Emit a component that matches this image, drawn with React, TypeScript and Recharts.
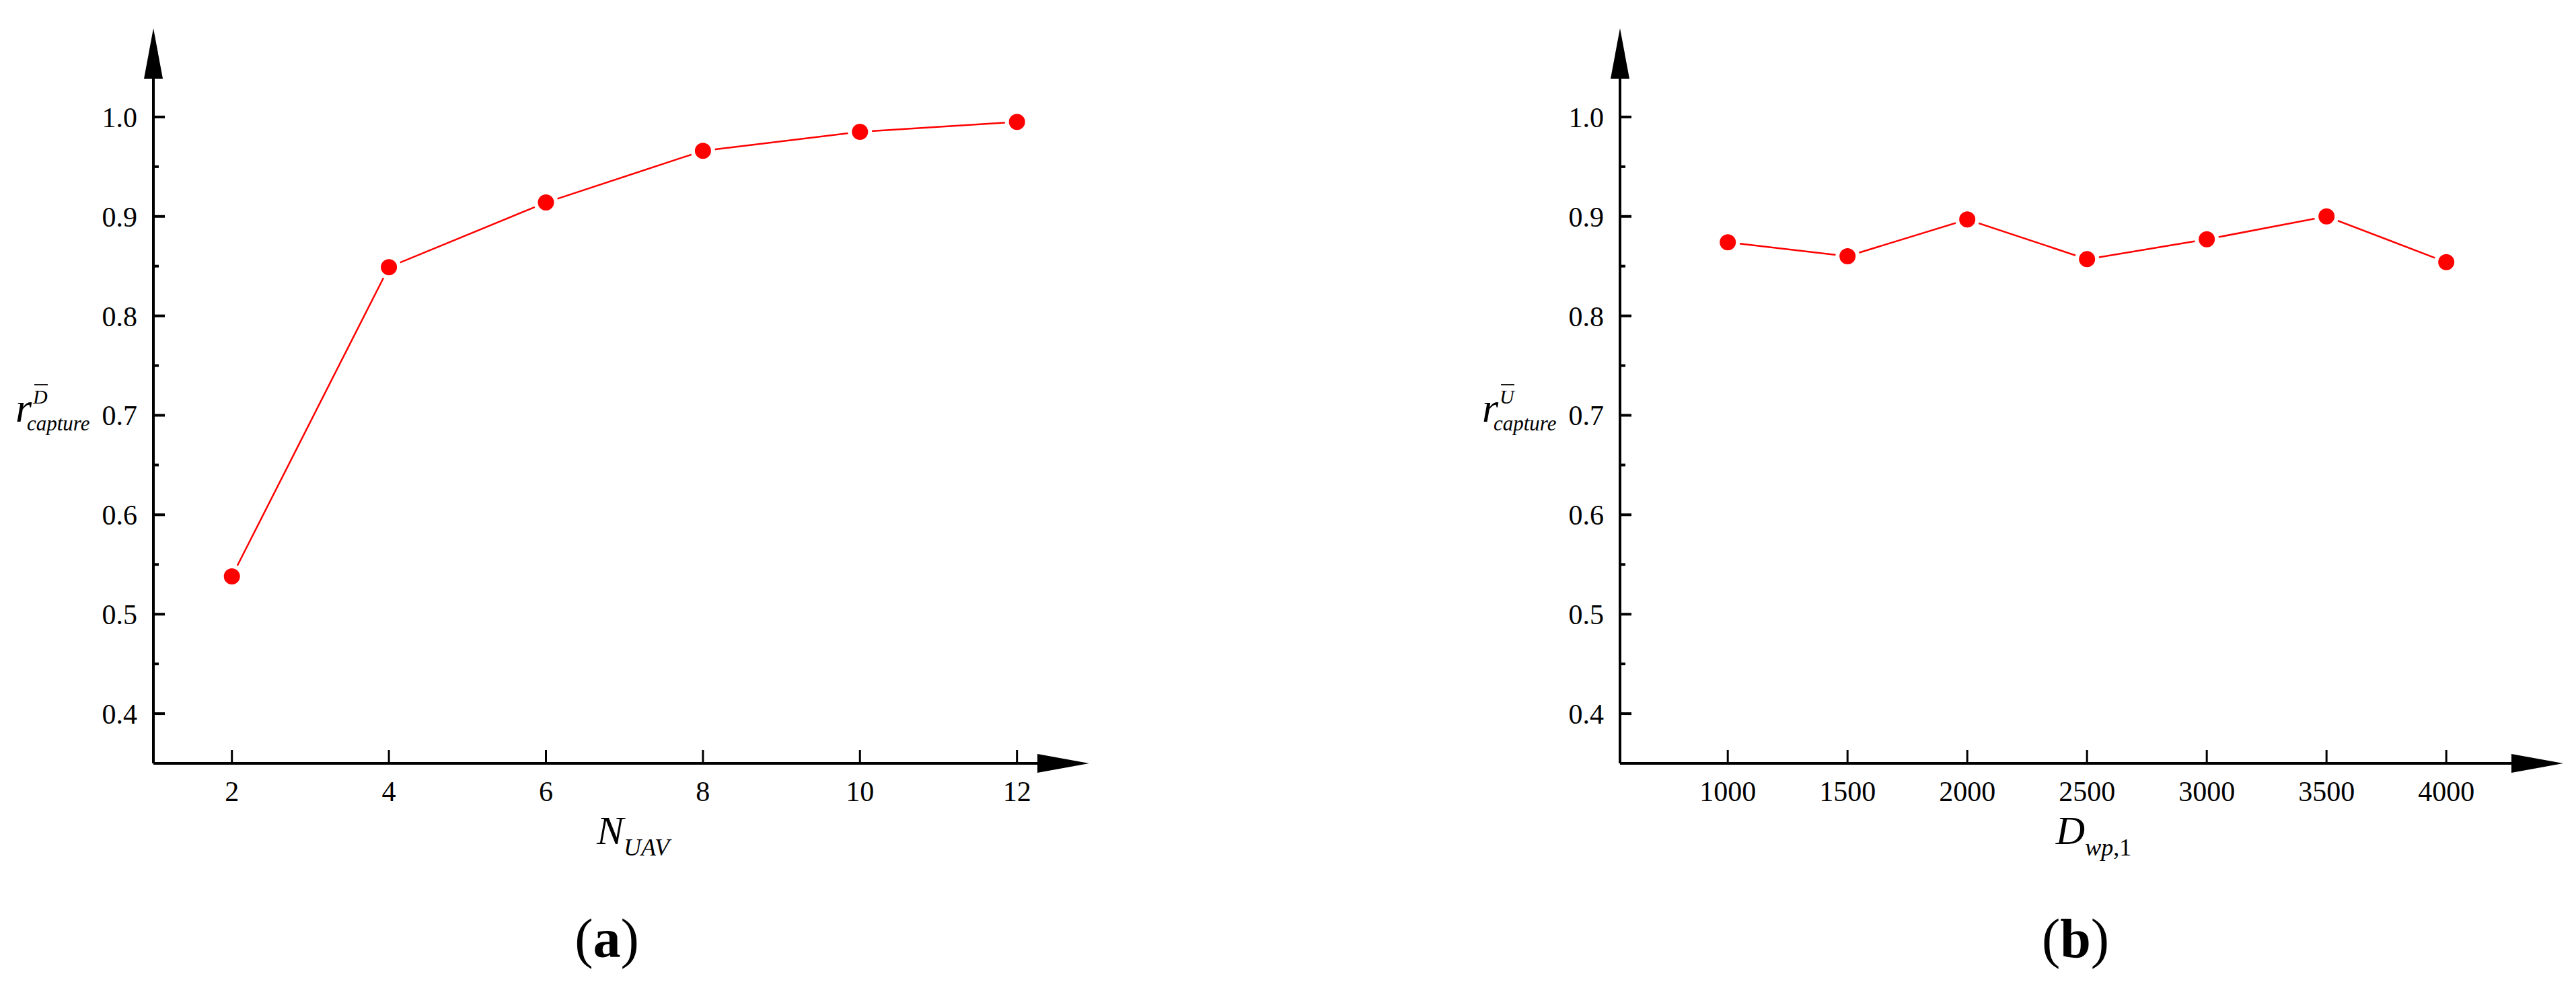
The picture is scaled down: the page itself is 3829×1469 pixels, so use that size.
import { LineChart, Line, XAxis, YAxis } from 'recharts'

// values
const nUav = [2, 4, 6, 8, 10, 12]
const captureD = [0.538, 0.849, 0.914, 0.966, 0.985, 0.995]

const dWp = [1000, 1500, 2000, 2500, 3000, 3500, 4000]
const captureU = [0.874, 0.86, 0.897, 0.857, 0.877, 0.9, 0.854]

const yTicks = [0.4, 0.5, 0.6, 0.7, 0.8, 0.9, 1.0]
const yMinorTicks = [0.45, 0.55, 0.65, 0.75, 0.85, 0.95]
const xTicksA = [2, 4, 6, 8, 10, 12]
const xTicksB = [1000, 1500, 2000, 2500, 3000, 3500, 4000]

const FONT = '"Liberation Serif", "Times New Roman", serif'
const RED = '#FF0000'

const dataA = nUav.map((n, i) => ({ x: n, y: captureD[i] }))
const dataB = dWp.map((d, i) => ({ x: d, y: captureU[i] }))

// eslint-disable-next-line @typescript-eslint/no-explicit-any
function YTick({ x, y, payload }: any) {
  const major = yTicks.includes(payload.value)
  return (
    <g>
      <line x1={x} x2={x + (major ? 17 : 8)} y1={y} y2={y} stroke="#000" strokeWidth={4} />
      {major && (
        <text x={x - 24} y={y + 15} textAnchor="end" fontFamily={FONT} fontSize={42} fill="#000">
          {payload.value.toFixed(1)}
        </text>
      )}
    </g>
  )
}

// eslint-disable-next-line @typescript-eslint/no-explicit-any
function XTick({ x, y, payload }: any) {
  return (
    <g>
      <line x1={x} x2={x} y1={y} y2={y - 20} stroke="#000" strokeWidth={3} />
      <text x={x} y={y + 56} textAnchor="middle" fontFamily={FONT} fontSize={42} fill="#000">
        {payload.value}
      </text>
    </g>
  )
}

// arrow head on top of the y axis plus the r_capture label
// eslint-disable-next-line @typescript-eslint/no-explicit-any
function YDecor({ viewBox, sup }: any) {
  const ax = viewBox.x + viewBox.width
  const top = viewBox.y
  const cy = viewBox.y + viewBox.height / 2
  return (
    <g fontFamily={FONT} fill="#000">
      <polygon points={`${ax},${top - 75} ${ax - 14},${top} ${ax + 14},${top}`} fill="#000" />
      <text x={ax - 205} y={cy + 1} fontSize={62} fontStyle="italic">r</text>
      <text x={ax - 188} y={cy + 14} fontSize={31} fontStyle="italic">capture</text>
      <text x={ax - 179} y={cy - 26} fontSize={30} fontStyle="italic">{sup}</text>
      <line x1={ax - 177} x2={ax - 157} y1={cy - 54} y2={cy - 54} stroke="#000" strokeWidth={1.8} />
    </g>
  )
}

// arrow head at the end of the x axis, axis title and panel caption
// eslint-disable-next-line @typescript-eslint/no-explicit-any
function XDecor({ viewBox, main, sub, titleX, caption, captionX }: any) {
  const { x, y, width } = viewBox
  const end = x + width
  return (
    <g fontFamily={FONT} fill="#000">
      <polygon points={`${end},${y - 14} ${end + 77},${y} ${end},${y + 14}`} fill="#000" />
      <text x={titleX} y={y + 120} textAnchor="middle">
        <tspan fontSize={60} fontStyle="italic">{main}</tspan>
        <tspan fontSize={36} dy={17}>{sub}</tspan>
      </text>
      <text x={captionX} y={y + 288} textAnchor="middle" fontSize={82}>
        {'('}
        <tspan fontWeight="bold">{caption}</tspan>
        {')'}
      </text>
    </g>
  )
}

const axisLine = { stroke: '#000', strokeWidth: 4 }

export default function App() {
  return (
    <div style={{ position: 'absolute', left: 0, top: 0, width: 3829, height: 1469, background: '#fff' }}>
      <div style={{ position: 'absolute', left: 0, top: 0 }}>
        <LineChart width={1700} height={1469} data={dataA} margin={{ top: 117, right: 158, bottom: 0, left: 0 }}>
          <XAxis
            dataKey="x"
            type="number"
            domain={[1, 12.26]}
            ticks={xTicksA}
            interval={0}
            height={334}
            tickSize={0}
            tickMargin={0}
            tickLine={false}
            axisLine={axisLine}
            tick={<XTick />}
            label={
              <XDecor
                main="N"
                sub={<tspan fontStyle="italic">UAV</tspan>}
                titleX={941}
                caption="a"
                captionX={902}
              />
            }
          />
          <YAxis
            type="number"
            domain={[0.35, 1.0385]}
            ticks={[...yTicks, ...yMinorTicks]}
            interval={0}
            width={228}
            tickSize={0}
            tickMargin={0}
            tickLine={false}
            axisLine={axisLine}
            tick={<YTick />}
            label={<YDecor sup="D" />}
          />
          <Line
            dataKey="y"
            type="linear"
            stroke={RED}
            strokeWidth={2.5}
            dot={{ r: 15, fill: RED, stroke: '#fff', strokeWidth: 6 }}
            activeDot={false}
            isAnimationActive={false}
          />
        </LineChart>
      </div>
      <div style={{ position: 'absolute', left: 1915, top: 0 }}>
        <LineChart width={1914} height={1469} data={dataB} margin={{ top: 117, right: 96, bottom: 0, left: 0 }}>
          <XAxis
            dataKey="x"
            type="number"
            domain={[550, 4272]}
            ticks={xTicksB}
            interval={0}
            height={334}
            tickSize={0}
            tickMargin={0}
            tickLine={false}
            axisLine={axisLine}
            tick={<XTick />}
            label={
              <XDecor
                main="D"
                sub={
                  <>
                    <tspan fontStyle="italic">wp</tspan>
                    <tspan>,1</tspan>
                  </>
                }
                titleX={1197}
                caption="b"
                captionX={1170}
              />
            }
          />
          <YAxis
            type="number"
            domain={[0.35, 1.0385]}
            ticks={[...yTicks, ...yMinorTicks]}
            interval={0}
            width={493}
            tickSize={0}
            tickMargin={0}
            tickLine={false}
            axisLine={axisLine}
            tick={<YTick />}
            label={<YDecor sup="U" />}
          />
          <Line
            dataKey="y"
            type="linear"
            stroke={RED}
            strokeWidth={2.5}
            dot={{ r: 15, fill: RED, stroke: '#fff', strokeWidth: 6 }}
            activeDot={false}
            isAnimationActive={false}
          />
        </LineChart>
      </div>
    </div>
  )
}
